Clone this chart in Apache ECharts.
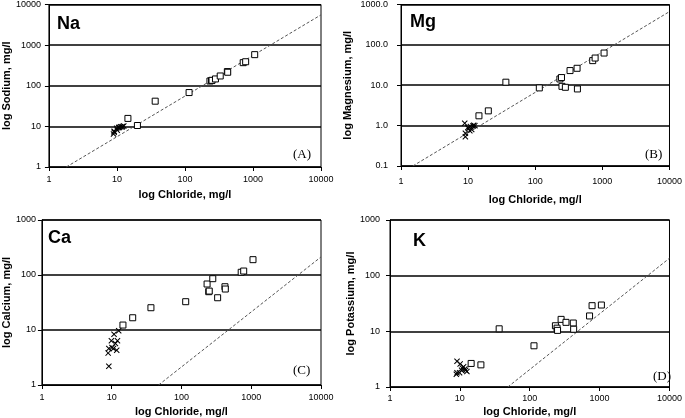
<!DOCTYPE html>
<html>
<head>
<meta charset="utf-8">
<script src="https://cdn.jsdelivr.net/npm/echarts@6/dist/echarts.min.js"></script>
<style>html,body{margin:0;padding:0;background:#fff;}#c{width:685px;height:418px;}</style>
</head>
<body>
<div id="c"></div>
<script>
// Chloride (x) for square symbols and cross symbols
const clSquares = [14.5, 20, 36.5, 115, 233, 246, 250, 281, 330, 420, 425, 718, 780, 1060];
const clCrosses = [12.6, 10.8, 9.9, 12.1, 11.3, 9.1, 10.6, 11.8, 8.9, 10.1, 9.1];
// Panel values
const naSquares = [15.7, 10.5, 41.7, 68, 131, 134, 136, 147, 174, 223, 215, 370, 390, 583];
const naCrosses = [10.2, 9.5, 9.0, 10.0, 9.8, 7.2, 9.3, 9.6, 6.5, 8.0, 7.6];
const mgSquares = [1.75, 2.32, 11.9, 8.6, 14.3, 15.5, 9.4, 8.9, 23.1, 26.3, 8.1, 40.7, 47.2, 62.8];
const mgCrosses = [1.0, 0.95, 0.9, 1.02, 0.8, 0.65, 0.75, 0.98, 1.15, 0.85, 0.53];
const caSquares = [12.3, 16.7, 25.4, 32.7, 68.6, 49.7, 51, 85.7, 38.6, 61.2, 55.6, 112, 118, 190];
const caCrosses = [9.7, 8.4, 6.4, 6.4, 5.7, 4.6, 4.6, 4.3, 3.8, 4.8, 2.2];
const kSquares = [2.65, 2.5, 11.1, 5.5, 12.6, 11.4, 10.4, 16.4, 14.5, 14.1, 10.9, 18.9, 28.9, 29.7];
const kCrosses = [1.9, 2.2, 1.8, 2.0, 2.3, 2.9, 2.0, 2.1, 1.7, 2.6, 1.8];
// Seawater dilution reference lines (endpoints)
const naRefLine = [[1.8, 1], [10000, 5560]];
const mgRefLine = [[1.5, 0.1], [10000, 667]];
const caRefLine = [[47, 1], [10000, 213]];
const kRefLine = [[48.5, 1], [10000, 206]];
// Axis ranges / labels
const xRange = [1, 10000];
const yRanges = [[1, 10000], [0.1, 1000], [1, 1000], [1, 1000]];
const panelLabels = ['Na', 'Mg', 'Ca', 'K'];
const panelTags = ['(A)', '(B)', '(C)', '(D)'];
const yTitles = ['log Sodium, mg/l', 'log Magnesium, mg/l', 'log Calcium, mg/l', 'log Potassium, mg/l'];
const xTitle = 'log Chloride, mg/l';

const zip = (xs, ys) => xs.map((x, i) => [x, ys[i]]);
const panels = [
  {sq: naSquares, cr: naCrosses, ref: naRefLine},
  {sq: mgSquares, cr: mgCrosses, ref: mgRefLine},
  {sq: caSquares, cr: caCrosses, ref: caRefLine},
  {sq: kSquares, cr: kCrosses, ref: kRefLine}
];

const grids = [
  {left: 46, top: 4, width: 275, height: 163},
  {left: 401, top: 4, width: 270, height: 162},
  {left: 40, top: 220, width: 281, height: 165},
  {left: 390, top: 220, width: 282, height: 167}
];
const yLabelMargin = [8, 13, 6, 10];
const xLabelMargin = [8, 11, 8, 7];
const xNameGap = [22, 28, 21, 19];
const yNameGap = [33, 48, 27, 29];
const labelPos = [[57, 15], [410, 13], [48, 229], [413, 232]];
const tagPos = [[293, 148], [645, 148], [293, 364], [653, 370]];

const crossPath = 'path://M0,1.2 L1.2,0 L5,3.8 L8.8,0 L10,1.2 L6.2,5 L10,8.8 L8.8,10 L5,6.2 L1.2,10 L0,8.8 L3.8,5 Z';
const font = 'Liberation Sans, Arial, sans-serif';
const intFmt = v => String(Math.round(v));

const option = {
  animation: false,
  backgroundColor: '#fff',
  grid: grids.map(g => Object.assign({show: true, borderColor: '#000', borderWidth: 1, containLabel: false}, g)),
  xAxis: grids.map((g, i) => ({
    type: 'log', logBase: 10, gridIndex: i, min: xRange[0], max: xRange[1],
    name: xTitle, nameLocation: 'middle', nameGap: xNameGap[i],
    nameTextStyle: {fontFamily: font, fontWeight: 'bold', fontSize: 11, color: '#000'},
    axisLine: {show: true, lineStyle: {color: '#000', width: 1}},
    axisTick: {show: true, inside: false, length: 4, lineStyle: {color: '#000'}},
    minorTick: {show: false},
    splitLine: {show: false},
    axisLabel: {fontFamily: font, fontSize: 9, color: '#000', margin: xLabelMargin[i], showMinLabel: true, showMaxLabel: true, formatter: intFmt}
  })),
  yAxis: grids.map((g, i) => ({
    type: 'log', logBase: 10, gridIndex: i, min: yRanges[i][0], max: yRanges[i][1],
    name: yTitles[i], nameLocation: 'middle', nameGap: yNameGap[i], nameRotate: 90,
    nameTextStyle: {fontFamily: font, fontWeight: 'bold', fontSize: 11, color: '#000'},
    axisLine: {show: true, lineStyle: {color: '#000', width: 1}},
    axisTick: {show: true, inside: false, length: 4, lineStyle: {color: '#000'}},
    splitLine: {show: true, lineStyle: {color: '#000', width: 1.6}},
    axisLabel: {
      fontFamily: font, fontSize: 9, color: '#000', margin: yLabelMargin[i],
      showMinLabel: true, showMaxLabel: true,
      formatter: i === 1 ? (v => Number(v).toFixed(1)) : intFmt
    }
  })),
  graphic: panelLabels.map((t, i) => ({
    type: 'text', left: labelPos[i][0], top: labelPos[i][1],
    style: {text: t, fontFamily: font, fontWeight: 'bold', fontSize: 18, fill: '#000'}
  })).concat(panelTags.map((t, i) => ({
    type: 'text', left: tagPos[i][0], top: tagPos[i][1],
    style: {text: t, fontFamily: 'Liberation Serif, Times New Roman, serif', fontSize: 13, fill: '#000'}
  }))),
  series: []
};

panels.forEach((p, i) => {
  option.series.push({
    type: 'line', xAxisIndex: i, yAxisIndex: i, data: p.ref, symbol: 'none', clip: true,
    lineStyle: {color: '#555', width: 1, type: [3, 2]}, silent: true, z: 1
  });
  option.series.push({
    type: 'scatter', xAxisIndex: i, yAxisIndex: i, data: zip(clSquares, p.sq),
    symbol: 'rect', symbolSize: 6,
    itemStyle: {color: '#fff', borderColor: '#000', borderWidth: 1, opacity: 1}, z: 3
  });
  option.series.push({
    type: 'scatter', xAxisIndex: i, yAxisIndex: i, data: zip(clCrosses, p.cr),
    symbol: crossPath, symbolSize: 6,
    itemStyle: {color: '#000', opacity: 1}, z: 4
  });
});

const chart = echarts.init(document.getElementById('c'), null, {renderer: 'canvas'});
chart.setOption(option);
</script>
</body>
</html>
